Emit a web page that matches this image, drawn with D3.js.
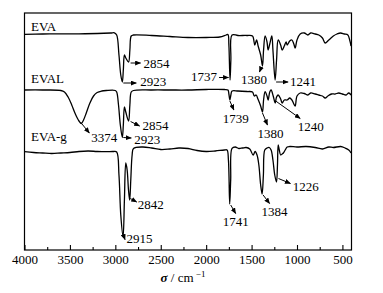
<!DOCTYPE html>
<html><head><meta charset="utf-8">
<script src="https://cdn.jsdelivr.net/npm/d3@7"></script>
<style>
html,body{margin:0;padding:0;background:#fff;}
svg text{font-family:"Liberation Serif","Times New Roman",serif;font-size:13px;fill:#000;}
</style></head>
<body><svg id="c" width="383" height="293" font-family="Liberation Serif"></svg>
<script>
// ---------------- DATA ----------------
const seriesNames = ["EVA", "EVAL", "EVA-g"];
// wavenumbers (cm^-1) and transmittance (a.u., offset-stacked)
const evaW = [4000,3800,3600,3400,3200,3050,3010,2985,2960,2940,2923,2912,2900,2885,2854,2840,2825,2800,2600,2400,2200,2000,1850,1780,1760,1750,1737,1728,1715,1650,1550,1490,1465,1445,1428,1400,1380,1368,1351,1330,1318,1300,1277,1265,1241,1225,1207,1180,1163,1140,1120,1108,1080,1056,1035,1020,1000,965,920,880,850,800,760,720,690,650,600,560,520,480,440,420,405];
const evaT = [215.7,216,216.2,216.2,216.5,217,217.2,215,195,175,168,180,195,192,188,200,214,215,214.5,213.5,212.5,212.5,213,215,215.5,205,170,190,215,214.5,214.5,214,205,210,204,195,184,200,214,208,200,206,214,200,170,190,210,205,200,204,208,205,209,210,206,202,210,216,217,215,217,216,215,212,207,210,214,216,217,216,215,210,204];

const evalW = [4000,3800,3600,3560,3520,3480,3440,3400,3374,3350,3320,3280,3240,3200,3150,3100,3000,2985,2965,2945,2923,2912,2900,2885,2854,2840,2825,2800,2600,2400,2200,2000,1800,1760,1750,1739,1728,1715,1650,1550,1490,1470,1450,1430,1400,1380,1368,1351,1330,1318,1300,1285,1262,1240,1225,1207,1180,1163,1140,1108,1080,1056,1035,1020,1000,965,920,880,850,800,760,720,690,660,620,580,540,500,460,430,405];
const evalT = [160,160,159.5,158,153,145,136,129,126.5,130,137,147,154,157.5,159,159.5,159.5,158,145,125,112.5,125,143,138,129,145,158,159.5,160,160,160,160.5,160.5,160,156,150,155,159,159,158.5,158,154,155,151,144,138,150,158.3,154,150,158,160,154,147,153,155,151,147,150,150,152,150,146,144,154,157,156.5,155,157,156,155,154,152,154,156,156,157,156,155,157,155];

const evagW = [4000,3900,3800,3700,3600,3500,3400,3300,3200,3100,3020,2985,2960,2940,2915,2900,2885,2870,2855,2842,2830,2815,2800,2700,2600,2500,2400,2300,2200,2100,2000,1900,1800,1770,1755,1741,1730,1715,1680,1640,1600,1560,1520,1483,1461,1440,1420,1400,1384,1370,1355,1330,1305,1285,1265,1245,1226,1215,1207,1195,1180,1163,1150,1130,1108,1080,1000,900,800,720,650,600,520,470,430,405];
const evagT = [98.3,97.5,97,96.5,97,97.5,98.5,99,98.5,98.3,98.5,98,75,35,13.3,50,87,80,60,50,70,95,101.5,103,102,100.5,101,102,101.5,99.5,98.5,99,100,100,90,46,70,101.7,103,101.5,102,102.5,101,95,98.5,95,85,65,56,75,100,102,102.5,100,90,75,68,85,105,100,95,96,97,100,103,103.5,103,103.5,102.5,101,103,102.5,103.5,102,100,97];

const xTicks = [4000,3500,3000,2500,2000,1500,1000,500];
const xMinorTicks = [3750,3250,2750,2250,1750,1250,750];
// peak annotations: series index, wavenumber, label
const peakSeries = [0,0,0,0,0, 1,1,1,1,1,1, 2,2,2,2,2];
const peakW      = [2854,2923,1737,1380,1241, 3374,2923,2854,1739,1380,1240, 2915,2842,1741,1384,1226];
const peakLabels = ["2854","2923","1737","1380","1241", "3374","2923","2854","1739","1380","1240", "2915","2842","1741","1384","1226"];

// ---------------- LAYOUT ----------------
const FONT = "Liberation Serif";
const M = {left:24.5, top:13, right:351.5, bottom:250};
// [arrow x0,y0, x1,y1, text x,y, anchor] offsets from the peak point (px)
const annLayout = [
  [2,1, 12,1, 15,5.5,"start"],
  [1,1, 14,1, 18,4,"start"],
  [-11,-2.5, -1.5,-2.5, -13,1,"end"],
  [-1,1, -3,6, -8.5,17.5,"middle"],
  [1,2, 13,2, 15,6,"start"],
  [-1,-1.5, 8,9.5, 10,18.5,"start"],
  [1,0, 9,0.5, 12,6,"start"],
  [2,0.5, 11,5, 14,9,"start"],
  [0,1, 4,10, 6,22.6,"middle"],
  [0,1, 5,13, 8,25.6,"middle"],
  [0.5,-2, 25,15.5, 35.5,28,"middle"],
  [0,-2.5, 2,3, 3.5,6.6,"start"],
  [0.6,-1.5, 7,2, 8,8.6,"start"],
  [1,1, 6,9.5, 6,22,"middle"],
  [1,1, 7.5,9.5, 12.5,22,"middle"],
  [2,-3.5, 14,1.5, 16.4,9,"start"]
];
const nameLayout = [[31,31],[31,82.5],[31,141]];

const svg = d3.select("#c");
const x = d3.scaleLinear().domain([4000,400]).range([M.left, M.right]);
const y = d3.scaleLinear().domain([0,237]).range([M.bottom, M.top]);

const defs = svg.append("defs");
defs.append("marker").attr("id","ah").attr("markerUnits","userSpaceOnUse")
  .attr("markerWidth",6).attr("markerHeight",5).attr("refX",5.5).attr("refY",2.5)
  .attr("orient","auto")
  .append("path").attr("d","M0,0 L6,2.5 L0,5 Z").attr("fill","#000");

const series = [
  {w:evaW, t:evaT},
  {w:evalW, t:evalT},
  {w:evagW, t:evagT}
].map(s => s.w.map((w,i)=>({w, t:s.t[i]})));

const line = d3.line().x(d=>x(d.w)).y(d=>y(d.t)).curve(d3.curveCatmullRom.alpha(0.5));
svg.append("g").selectAll("path").data(series).join("path")
  .attr("d", line).attr("fill","none").attr("stroke","#000").attr("stroke-width",1.3)
  .attr("stroke-linejoin","round");

// frame
svg.append("rect").attr("x",M.left).attr("y",M.top)
  .attr("width",M.right-M.left).attr("height",M.bottom-M.top)
  .attr("fill","none").attr("stroke","#000").attr("stroke-width",1.2);

// x axis
const ax = svg.append("g").attr("transform",`translate(0,${M.bottom})`)
  .call(d3.axisBottom(x).tickValues(xTicks).tickSizeInner(-5).tickSizeOuter(0).tickPadding(5).tickFormat(d3.format("d")));
ax.attr("font-family",FONT).attr("font-size",13);
ax.select(".domain").remove();
ax.selectAll("line").attr("stroke-width",1.1);
ax.selectAll("text").attr("font-family",FONT).style("font-size","13px");
svg.append("g").attr("transform",`translate(0,${M.bottom})`)
  .call(d3.axisBottom(x).tickValues(xMinorTicks).tickSizeInner(-3).tickSizeOuter(0).tickFormat(""))
  .call(g=>g.select(".domain").remove())
  .selectAll("line").attr("stroke-width",1.1);

// axis title
const tt = svg.append("text").attr("x",183).attr("y",282).attr("text-anchor","middle").attr("font-family",FONT);
tt.append("tspan").text("σ").attr("font-style","italic").attr("font-weight","bold");
tt.append("tspan").text(" / cm");
tt.append("tspan").text(" −1").attr("dy",-5).style("font-size","9px");

// series names
svg.append("g").selectAll("text").data(seriesNames).join("text")
  .attr("font-family",FONT)
  .attr("x",(d,i)=>nameLayout[i][0]).attr("y",(d,i)=>nameLayout[i][1]).text(d=>d);

// peak annotations
const ann = svg.append("g");
peakW.forEach((w,i)=>{
  const s = series[peakSeries[i]];
  const p = s.find(d=>d.w===w);
  const px = x(p.w), py = y(p.t);
  const L = annLayout[i];
  ann.append("line").attr("x1",px+L[0]).attr("y1",py+L[1]).attr("x2",px+L[2]).attr("y2",py+L[3])
    .attr("stroke","#000").attr("stroke-width",1).attr("marker-end","url(#ah)");
  ann.append("text").attr("font-family",FONT).attr("x",px+L[4]).attr("y",py+L[5]).attr("text-anchor",L[6]).text(peakLabels[i]);
});
</script></body></html>
